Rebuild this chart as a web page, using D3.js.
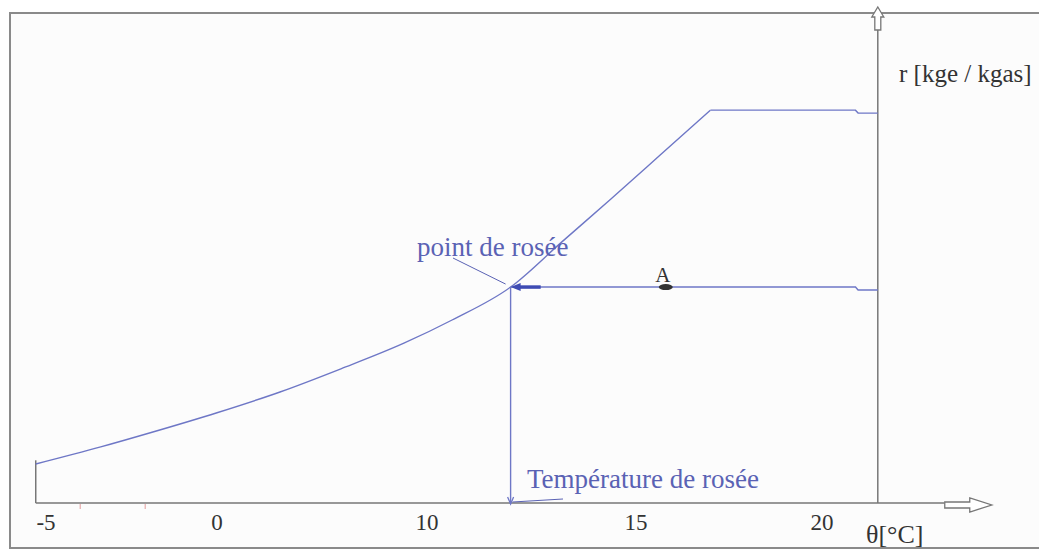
<!DOCTYPE html>
<html>
<head>
<meta charset="utf-8">
<script src="https://cdn.jsdelivr.net/npm/d3@7"></script>
<style>
  body { margin: 0; background: #ffffff; }
  svg { display: block; font-family: "Liberation Serif", "DejaVu Serif", serif; }
</style>
</head>
<body>
<div id="chart-area"></div>
<script>
// temperature (°C) / mixing ratio r
var curveTheta = [-5.3, -3.4, -1.9, 0, 3.0, 5.9, 8.9, 10.6, 12.0, 13.2, 14.4, 15.65, 17.0];
var curveR     = [1.6, 2.3, 2.9, 3.7, 4.55, 5.5, 6.55, 7.5, 8.85, 10.66, 12.46, 14.26, 16.1];
var plateauTheta = [17.0, 20.9, 20.97, 21.5];
var plateauR     = [16.1, 16.1, 15.98, 15.98];

var dewTheta = 12.0;
var dewR = 8.85;
var pointA = { theta: 15.8, r: 8.85, label: "A" };
var lineEndTheta = 20.9;

var tickLabels = [-5, 0, 10, 15, 20];
var minorTicks = [-4.0, -2.1];
var axisTheta = 21.5;

var width = 1039, height = 551;

var svg = d3.select("#chart-area").append("svg")
  .attr("width", width)
  .attr("height", height);

// hand-drawn axis is not evenly spaced, so piecewise scale
var x = d3.scaleLinear()
  .domain([-5, 0, 10, 15, 20, 25])
  .range([46, 217, 427, 636, 822, 1008]);

var y = d3.scaleLinear()
  .domain([0, 20])
  .range([503, 15]);

var blue = "#6e77c6";
var textBlue = "#5a62b4";
var grey = "#777";

// frame
svg.append("rect")
  .attr("x", 10).attr("y", 13)
  .attr("width", 1100).attr("height", 535)
  .attr("fill", "#fcfcfc")
  .attr("stroke", "#8a8a8a")
  .attr("stroke-width", 2);

// X axis line
svg.append("line")
  .attr("x1", x(-5.3)).attr("x2", x(23.3))
  .attr("y1", y(0)).attr("y2", y(0))
  .attr("stroke", grey).attr("stroke-width", 1.5);

// left small vertical
svg.append("line")
  .attr("x1", x(-5.3)).attr("x2", x(-5.3))
  .attr("y1", y(1.75)).attr("y2", y(0))
  .attr("stroke", grey).attr("stroke-width", 1.5);

// hollow arrow, x axis
var ax0 = x(23.3), ay = y(0) + 2;
svg.append("path")
  .attr("d", "M" + ax0 + "," + (ay - 3) + "H" + (ax0 + 25) + "V" + (ay - 7) +
    "L" + (ax0 + 47) + "," + ay + "L" + (ax0 + 25) + "," + (ay + 7) +
    "V" + (ay + 3) + "H" + ax0 + "Z")
  .attr("fill", "#fff").attr("stroke", grey).attr("stroke-width", 1.3);

// Y axis line
svg.append("line")
  .attr("x1", x(axisTheta)).attr("x2", x(axisTheta))
  .attr("y1", 30).attr("y2", y(0))
  .attr("stroke", grey).attr("stroke-width", 1.5);

// hollow arrow, y axis
var yx = x(axisTheta);
svg.append("path")
  .attr("d", "M" + (yx - 3) + ",30V17H" + (yx - 6) + "L" + yx + ",7L" + (yx + 6) + ",17H" + (yx + 3) + "V30Z")
  .attr("fill", "#fff").attr("stroke", grey).attr("stroke-width", 1.3);

// minor ticks
svg.selectAll(".minor")
  .data(minorTicks)
  .enter().append("line")
    .attr("class", "minor")
    .attr("x1", function(d) { return x(d); })
    .attr("x2", function(d) { return x(d); })
    .attr("y1", y(0) + 1).attr("y2", y(0) + 6)
    .attr("stroke", "#e29a9a").attr("stroke-width", 1);

// tick labels
svg.selectAll(".tick-label")
  .data(tickLabels)
  .enter().append("text")
    .attr("class", "tick-label")
    .attr("x", function(d) { return x(d); })
    .attr("y", 530)
    .attr("text-anchor", "middle")
    .attr("font-size", "23px")
    .attr("fill", "#333")
    .text(function(d) { return d; });

// axis labels
svg.append("text")
  .attr("x", 866).attr("y", 543)
  .attr("font-size", "26px")
  .attr("fill", "#333")
  .text("θ[°C]");

svg.append("text")
  .attr("x", 899).attr("y", 82)
  .attr("font-size", "25px")
  .attr("fill", "#333")
  .text("r [kge / kgas]");

// saturation curve
var line = d3.line()
  .x(function(d) { return x(d[0]); })
  .y(function(d) { return y(d[1]); });

var smooth = d3.line()
  .x(function(d) { return x(d[0]); })
  .y(function(d) { return y(d[1]); })
  .curve(d3.curveMonotoneX);

var curve = curveTheta.map(function(t, i) { return [t, curveR[i]]; });
var plateau = plateauTheta.map(function(t, i) { return [t, plateauR[i]]; });

svg.append("path")
  .datum(curve)
  .attr("d", smooth)
  .attr("fill", "none")
  .attr("stroke", blue)
  .attr("stroke-width", 1.4);

svg.append("path")
  .datum(plateau)
  .attr("d", line)
  .attr("fill", "none")
  .attr("stroke", blue)
  .attr("stroke-width", 1.4);

// cooling line A -> dew point
svg.append("path")
  .datum([[dewTheta, dewR], [lineEndTheta, dewR], [lineEndTheta + 0.07, dewR - 0.12], [axisTheta, dewR - 0.12]])
  .attr("d", line)
  .attr("fill", "none")
  .attr("stroke", blue)
  .attr("stroke-width", 1.4);

// thick arrow at dew point
var dx = x(dewTheta), dy = y(dewR);
svg.append("line")
  .attr("x1", dx + 6).attr("x2", x(dewTheta + 0.72))
  .attr("y1", dy).attr("y2", dy)
  .attr("stroke", "#3e4bb3").attr("stroke-width", 3.5);
svg.append("path")
  .attr("d", "M" + dx + "," + dy + "L" + (dx + 10) + "," + (dy - 4) + "L" + (dx + 10) + "," + (dy + 4) + "Z")
  .attr("fill", "#3e4bb3");

// vertical to dew temperature
svg.append("line")
  .attr("x1", dx).attr("x2", dx)
  .attr("y1", dy).attr("y2", y(0))
  .attr("stroke", blue).attr("stroke-width", 1.4);
svg.append("path")
  .attr("d", "M" + (dx - 3) + "," + (y(0) - 6) + "L" + dx + "," + (y(0) + 1) + "L" + (dx + 3) + "," + (y(0) - 6))
  .attr("fill", "none").attr("stroke", blue).attr("stroke-width", 1.3);

// point A
svg.append("ellipse")
  .attr("cx", x(pointA.theta)).attr("cy", y(pointA.r))
  .attr("rx", 7).attr("ry", 3)
  .attr("fill", "#333");
svg.append("text")
  .attr("x", x(pointA.theta) - 3).attr("y", y(pointA.r) - 5)
  .attr("text-anchor", "middle")
  .attr("font-size", "21px")
  .attr("fill", "#333")
  .text(pointA.label);

// annotations
svg.append("text")
  .attr("x", 417).attr("y", 256)
  .attr("font-size", "27px")
  .attr("fill", textBlue)
  .text("point de rosée");
svg.append("line")
  .attr("x1", 453).attr("y1", 258)
  .attr("x2", dx - 5).attr("y2", dy - 3)
  .attr("stroke", textBlue).attr("stroke-width", 1);

svg.append("text")
  .attr("x", 527).attr("y", 488)
  .attr("font-size", "27px")
  .attr("fill", textBlue)
  .text("Température de rosée");
svg.append("line")
  .attr("x1", dx + 2).attr("y1", y(0) - 1)
  .attr("x2", 563).attr("y2", 499)
  .attr("stroke", textBlue).attr("stroke-width", 1);
</script>
</body>
</html>
